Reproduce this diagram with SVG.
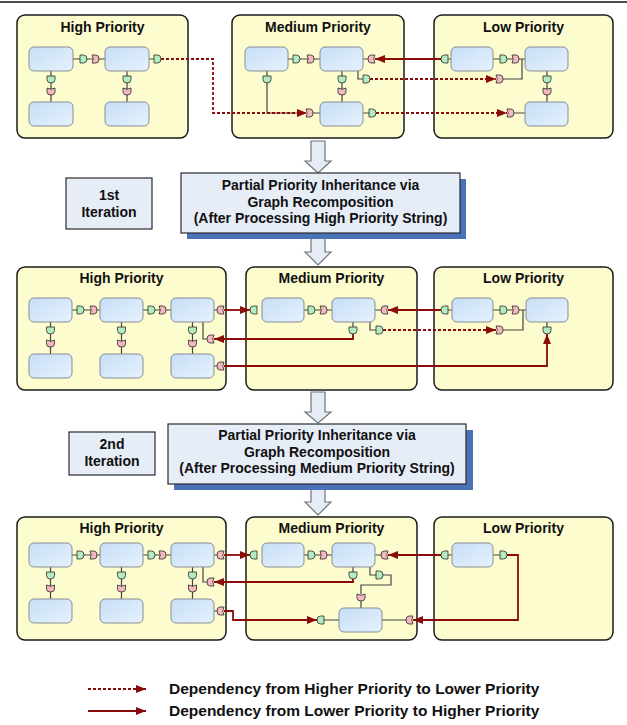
<svg xmlns="http://www.w3.org/2000/svg" width="627" height="725" viewBox="0 0 627 725">
<defs>
<linearGradient id="ng" x1="0" y1="0" x2="1" y2="1"><stop offset="0" stop-color="#c6def6"/><stop offset="1" stop-color="#e6f2fd"/></linearGradient>
<path id="plug" d="M0,-4H3.5Q7,-4 7,0Q7,4 3.5,4H0Z" class="plug"/>
<path id="sock" d="M7,-4H3Q0,-4 0,0Q0,4 3,4H7Q4.5,0 7,-4Z" class="sock"/>
<marker id="ah" markerUnits="userSpaceOnUse" markerWidth="10" markerHeight="8" viewBox="0 0 10 8" refX="10" refY="4" orient="auto"><path d="M0,0L10,4L0,8Z" fill="#8b0a0a"/></marker>
</defs>
<style>
.cont{fill:#fdfccf;stroke:#1a1a1a;stroke-width:1.5}
.node{fill:url(#ng);stroke:#878d94;stroke-width:1}
.plug{fill:#b2ecc0;stroke:#2a2a2a;stroke-width:0.8}
.sock{fill:#f5b7c0;stroke:#2a2a2a;stroke-width:0.8}
.ln{fill:none;stroke:#444;stroke-width:1.2}
.dep{fill:none;stroke:#8b0a0a;stroke-width:1.8;marker-end:url(#ah)}
.dot{stroke-dasharray:3 2}
.t{font-family:"Liberation Sans",Arial,sans-serif;font-weight:bold;fill:#111;text-anchor:middle;font-size:14px}
.lg{font-family:"Liberation Sans",Arial,sans-serif;font-weight:bold;fill:#111;font-size:15.5px}
.box{fill:#e7edf7;stroke:#2a2a2a;stroke-width:1.2}
.shadow{fill:#4a72b8}
.big{fill:#e6ecf5;stroke:#6f747a;stroke-width:1.2}
</style>
<line x1="0" y1="2" x2="627" y2="2" stroke="#111" stroke-width="1.5"/>

<!-- containers -->
<g id="s1-high"><rect class="cont" x="17" y="15" width="171" height="123" rx="8"/><text class="t" x="102.5" y="32">High Priority</text></g>
<g id="s1-medium"><rect class="cont" x="232" y="15" width="172" height="123" rx="8"/><text class="t" x="318" y="32">Medium Priority</text></g>
<g id="s1-low"><rect class="cont" x="434" y="15" width="179" height="123" rx="8"/><text class="t" x="523.5" y="32">Low Priority</text></g>

<g id="s2-high"><rect class="cont" x="17" y="267" width="209" height="123" rx="8"/><text class="t" x="121.5" y="283">High Priority</text></g>
<g id="s2-medium"><rect class="cont" x="246" y="267" width="171" height="123" rx="8"/><text class="t" x="331.5" y="283">Medium Priority</text></g>
<g id="s2-low"><rect class="cont" x="434" y="267" width="179" height="123" rx="8"/><text class="t" x="523.5" y="283">Low Priority</text></g>

<g id="s3-high"><rect class="cont" x="17" y="517" width="209" height="123" rx="8"/><text class="t" x="121.5" y="533">High Priority</text></g>
<g id="s3-medium"><rect class="cont" x="246" y="517" width="171" height="123" rx="8"/><text class="t" x="331.5" y="533">Medium Priority</text></g>
<g id="s3-low"><rect class="cont" x="434" y="517" width="179" height="123" rx="8"/><text class="t" x="523.5" y="533">Low Priority</text></g>

<!-- process arrows and boxes -->
<g id="flow-arrows">
<path class="big" d="M311,141H325V161H331L318,173L305,161H311Z"/>
<path class="big" d="M311,236H325V252H331L318,265L305,252H311Z"/>
<path class="big" d="M311,392H325V412H331L318,423L305,412H311Z"/>
<path class="big" d="M311,487H325V502H331L318,515L305,502H311Z"/>
</g>
<g id="step1">
<rect class="shadow" x="187" y="179" width="279" height="60"/>
<rect class="box" x="181" y="173" width="279" height="60"/>
<text class="t" x="320.5" y="190">Partial Priority Inheritance via</text>
<text class="t" x="320.5" y="207">Graph Recomposition</text>
<text class="t" x="320.5" y="223">(After Processing High Priority String)</text>
</g>
<g id="iter1"><rect class="box" x="66" y="178" width="86" height="51"/><text class="t" x="109" y="200">1st</text><text class="t" x="109" y="217">Iteration</text></g>
<g id="step2">
<rect class="shadow" x="174" y="430" width="299" height="60"/>
<rect class="box" x="168" y="424" width="298" height="60"/>
<text class="t" x="317" y="440">Partial Priority Inheritance via</text>
<text class="t" x="317" y="457">Graph Recomposition</text>
<text class="t" x="317" y="473">(After Processing Medium Priority String)</text>
</g>
<g id="iter2"><rect class="box" x="69" y="432" width="86" height="43"/><text class="t" x="112" y="449">2nd</text><text class="t" x="112" y="466">Iteration</text></g>

<!-- connectors -->
<g id="connectors">
<g class="ln">
<path d="M73,59H105M51,71V102M127,71V102M149,59H154M267,71V113H306M313,113H320M288,59H320M363,59H368M358,71V79H363M342,71V102M363,113H369M448,59H451M493,59H525M503,79H522V59M547,71V102M514,113H525"/>
<path d="M72,310H100M143,310H171M50.5,322V354M121.5,322V354M192.5,322V354M214,310H217M203,322V339H207M214,366H217M304,310H332M375,310H381M370,322V330H376M353,322V327M448,310H452M493,310H526M503,330H523V310M547,322V327"/>
<path d="M72,555H100M143,555H171M50.5,567V599M121.5,567V599M192.5,567V599M214,555H217M203,567V582H207M214,611H217M304,555H332M375,555H381M370,567V575H376M383,575H391V585H361V594M361,601V608M353,567V572M324,620H339M382,620H406M448,555H452M493,555H500"/>
</g>
<!-- section 1 ports -->
<use href="#plug" transform="translate(80,59)"/><use href="#sock" transform="translate(99,59) rotate(180)"/>
<use href="#plug" transform="translate(51,76) rotate(90)"/><use href="#sock" transform="translate(51,95) rotate(-90)"/>
<use href="#plug" transform="translate(127,76) rotate(90)"/><use href="#sock" transform="translate(127,95) rotate(-90)"/>
<use href="#plug" transform="translate(154,59)"/>
<use href="#sock" transform="translate(313,113) rotate(180)"/>
<use href="#plug" transform="translate(267,76) rotate(90)"/>
<use href="#plug" transform="translate(293,59)"/><use href="#sock" transform="translate(314,59) rotate(180)"/>
<use href="#sock" transform="translate(368,59)"/>
<use href="#plug" transform="translate(363,79)"/>
<use href="#plug" transform="translate(342,76) rotate(90)"/><use href="#sock" transform="translate(342,95) rotate(-90)"/>
<use href="#plug" transform="translate(369,113)"/>
<use href="#plug" transform="translate(448,59) rotate(180)"/>
<use href="#plug" transform="translate(500,59)"/><use href="#sock" transform="translate(519,59) rotate(180)"/>
<use href="#sock" transform="translate(503,79) rotate(180)"/>
<use href="#plug" transform="translate(547,76) rotate(90)"/><use href="#sock" transform="translate(547,95) rotate(-90)"/>
<use href="#sock" transform="translate(514,113) rotate(180)"/>
<!-- section 2 ports -->
<use href="#plug" transform="translate(77,310)"/><use href="#sock" transform="translate(97,310) rotate(180)"/>
<use href="#plug" transform="translate(148,310)"/><use href="#sock" transform="translate(166,310) rotate(180)"/>
<use href="#plug" transform="translate(50.5,327) rotate(90)"/><use href="#sock" transform="translate(50.5,347) rotate(-90)"/>
<use href="#plug" transform="translate(121.5,327) rotate(90)"/><use href="#sock" transform="translate(121.5,347) rotate(-90)"/>
<use href="#plug" transform="translate(192.5,327) rotate(90)"/><use href="#sock" transform="translate(192.5,347) rotate(-90)"/>
<use href="#sock" transform="translate(217,310)"/><use href="#sock" transform="translate(207,339)"/><use href="#sock" transform="translate(217,366)"/>
<use href="#plug" transform="translate(257,310) rotate(180)"/>
<use href="#plug" transform="translate(308,310)"/><use href="#sock" transform="translate(327,310) rotate(180)"/>
<use href="#sock" transform="translate(381,310)"/>
<use href="#plug" transform="translate(376,330)"/>
<use href="#plug" transform="translate(353,327) rotate(90)"/>
<use href="#plug" transform="translate(448,310) rotate(180)"/>
<use href="#plug" transform="translate(500,310)"/><use href="#sock" transform="translate(519,310) rotate(180)"/>
<use href="#sock" transform="translate(503,330) rotate(180)"/>
<use href="#plug" transform="translate(547,327) rotate(90)"/>
<!-- section 3 ports -->
<use href="#plug" transform="translate(77,555)"/><use href="#sock" transform="translate(97,555) rotate(180)"/>
<use href="#plug" transform="translate(148,555)"/><use href="#sock" transform="translate(166,555) rotate(180)"/>
<use href="#plug" transform="translate(50.5,572) rotate(90)"/><use href="#sock" transform="translate(50.5,592) rotate(-90)"/>
<use href="#plug" transform="translate(121.5,572) rotate(90)"/><use href="#sock" transform="translate(121.5,592) rotate(-90)"/>
<use href="#plug" transform="translate(192.5,572) rotate(90)"/><use href="#sock" transform="translate(192.5,592) rotate(-90)"/>
<use href="#sock" transform="translate(217,555)"/><use href="#sock" transform="translate(207,582)"/><use href="#sock" transform="translate(217,611)"/>
<use href="#plug" transform="translate(257,555) rotate(180)"/>
<use href="#plug" transform="translate(308,555)"/><use href="#sock" transform="translate(327,555) rotate(180)"/>
<use href="#sock" transform="translate(381,555)"/>
<use href="#plug" transform="translate(376,575)"/>
<use href="#sock" transform="translate(361,601) rotate(-90)"/>
<use href="#plug" transform="translate(353,572) rotate(90)"/>
<use href="#plug" transform="translate(324,620) rotate(180)"/>
<use href="#sock" transform="translate(406,620)"/>
<use href="#plug" transform="translate(448,555) rotate(180)"/>
<use href="#plug" transform="translate(500,555)"/>
<!-- dependencies -->
<path class="dep dot" d="M161,59H213V113H307"/>
<path class="dep" d="M441,59H375"/>
<path class="dep dot" d="M370,79H496"/>
<path class="dep dot" d="M376,113H507"/>
<path class="dep" d="M224,310H250"/>
<path class="dep" d="M353,334V339H214"/>
<path class="dep" d="M224,366H547V334"/>
<path class="dep" d="M441,310H388"/>
<path class="dep dot" d="M383,330H496"/>
<path class="dep" d="M224,555H250"/>
<path class="dep" d="M353,579V582H214"/>
<path class="dep" d="M224,611H233V620H317"/>
<path class="dep" d="M441,555H388"/>
<path class="dep" d="M507,555H518V620H413"/>
</g>

<!-- nodes -->
<g id="s1-h1"><rect class="node" x="29" y="47" width="44" height="24" rx="5"/></g>
<g id="s1-h2"><rect class="node" x="105" y="47" width="44" height="24" rx="5"/></g>
<g id="s1-h3"><rect class="node" x="29" y="102" width="44" height="24" rx="5"/></g>
<g id="s1-h4"><rect class="node" x="105" y="102" width="44" height="24" rx="5"/></g>
<g id="s1-m1"><rect class="node" x="245" y="47" width="43" height="24" rx="5"/></g>
<g id="s1-m2"><rect class="node" x="320" y="47" width="43" height="24" rx="5"/></g>
<g id="s1-m3"><rect class="node" x="320" y="102" width="43" height="24" rx="5"/></g>
<g id="s1-l1"><rect class="node" x="451" y="47" width="42" height="24" rx="5"/></g>
<g id="s1-l2"><rect class="node" x="525" y="47" width="43" height="24" rx="5"/></g>
<g id="s1-l3"><rect class="node" x="525" y="102" width="43" height="24" rx="5"/></g>

<g id="s2-h1"><rect class="node" x="29" y="298" width="43" height="24" rx="5"/></g>
<g id="s2-h2"><rect class="node" x="100" y="298" width="43" height="24" rx="5"/></g>
<g id="s2-h3"><rect class="node" x="171" y="298" width="43" height="24" rx="5"/></g>
<g id="s2-h4"><rect class="node" x="29" y="354" width="43" height="24" rx="5"/></g>
<g id="s2-h5"><rect class="node" x="100" y="354" width="43" height="24" rx="5"/></g>
<g id="s2-h6"><rect class="node" x="171" y="354" width="43" height="24" rx="5"/></g>
<g id="s2-m1"><rect class="node" x="262" y="298" width="42" height="24" rx="5"/></g>
<g id="s2-m2"><rect class="node" x="332" y="298" width="43" height="24" rx="5"/></g>
<g id="s2-l1"><rect class="node" x="452" y="298" width="41" height="24" rx="5"/></g>
<g id="s2-l2"><rect class="node" x="526" y="298" width="42" height="24" rx="5"/></g>

<g id="s3-h1"><rect class="node" x="29" y="543" width="43" height="24" rx="5"/></g>
<g id="s3-h2"><rect class="node" x="100" y="543" width="43" height="24" rx="5"/></g>
<g id="s3-h3"><rect class="node" x="171" y="543" width="43" height="24" rx="5"/></g>
<g id="s3-h4"><rect class="node" x="29" y="599" width="43" height="24" rx="5"/></g>
<g id="s3-h5"><rect class="node" x="100" y="599" width="43" height="24" rx="5"/></g>
<g id="s3-h6"><rect class="node" x="171" y="599" width="43" height="24" rx="5"/></g>
<g id="s3-m1"><rect class="node" x="262" y="543" width="42" height="24" rx="5"/></g>
<g id="s3-m2"><rect class="node" x="332" y="543" width="43" height="24" rx="5"/></g>
<g id="s3-m3"><rect class="node" x="339" y="608" width="43" height="24" rx="5"/></g>
<g id="s3-l1"><rect class="node" x="452" y="543" width="41" height="24" rx="5"/></g>

<!-- legend -->
<g id="legend">
<path class="dep dot" d="M88,689H146"/>
<text class="lg" x="169" y="694">Dependency from Higher Priority to Lower Priority</text>
<path class="dep" d="M88,711H146"/>
<text class="lg" x="169" y="716">Dependency from Lower Priority to Higher Priority</text>
</g>
</svg>
